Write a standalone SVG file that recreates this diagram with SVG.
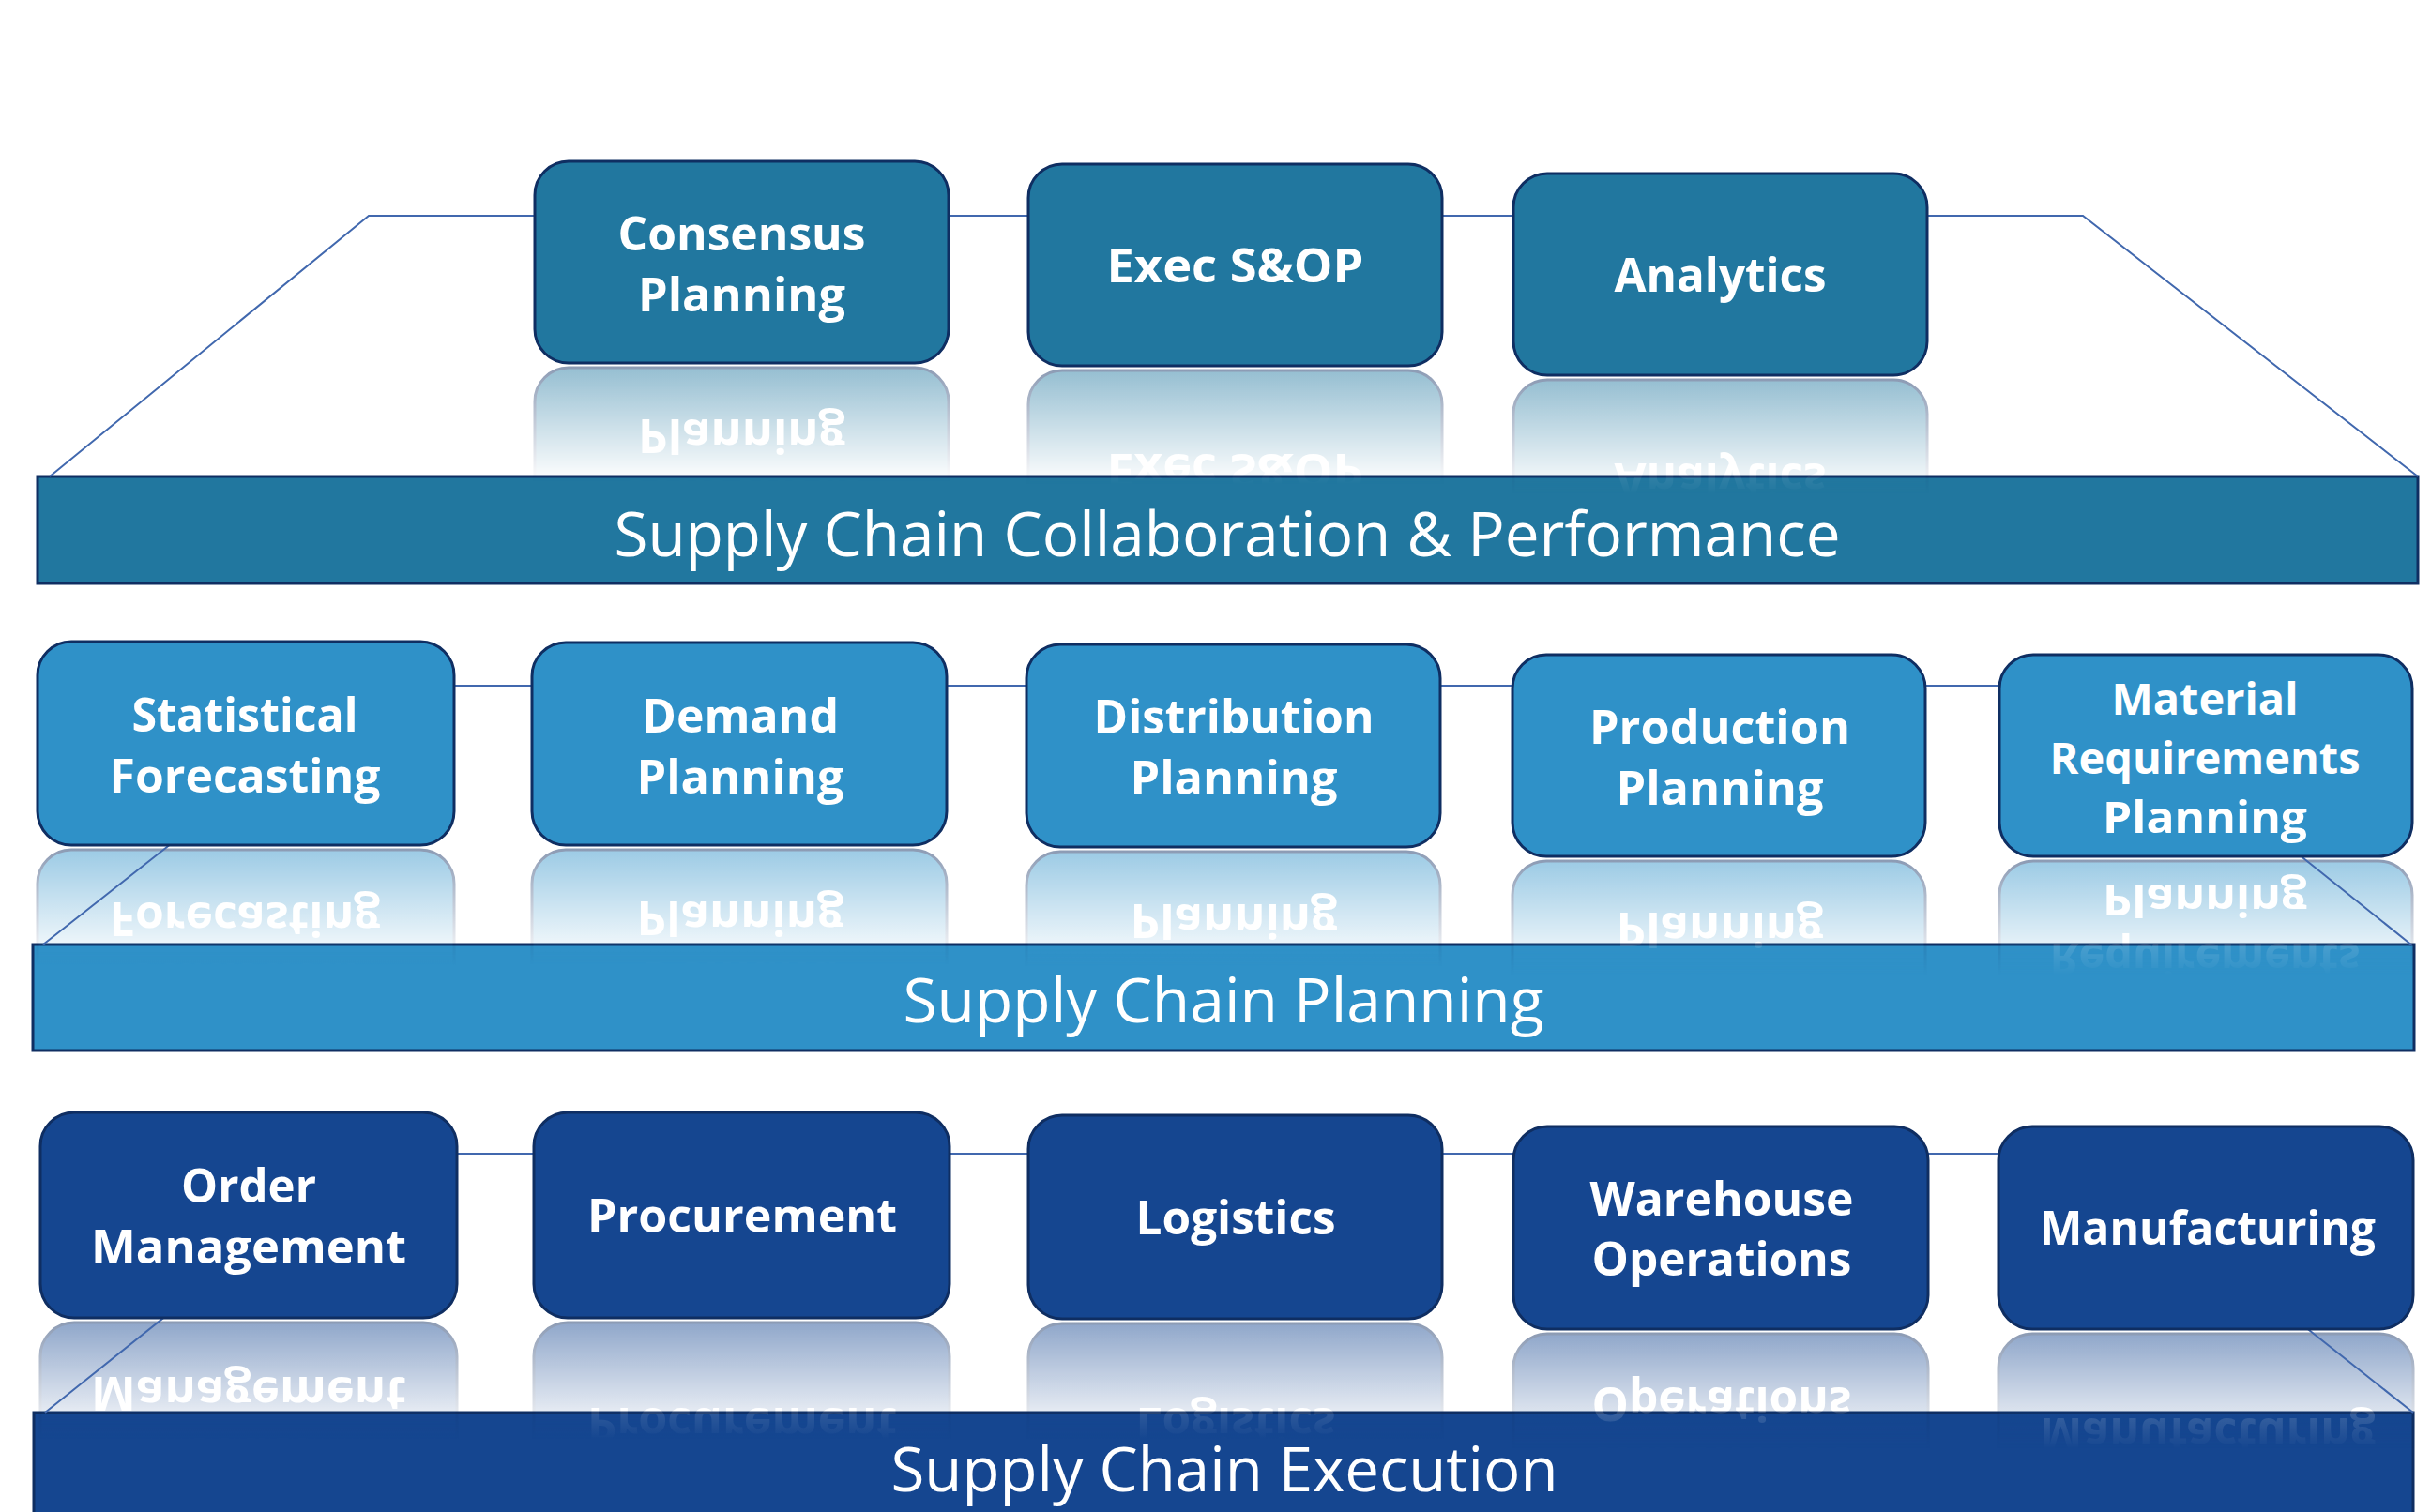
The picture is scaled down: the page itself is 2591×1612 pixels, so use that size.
<svg xmlns="http://www.w3.org/2000/svg" xmlns:xlink="http://www.w3.org/1999/xlink" width="2591" height="1612" viewBox="0 0 2591 1612">
<style>
.box{stroke:#0F2E62;stroke-width:3}
.r1{fill:#21779F}
.r2{fill:#2F91C8}
.r3{fill:#154690}
.bar{stroke:#0F2E62;stroke-width:3}
.lbl{font-family:"Open Sans","Noto Sans","Liberation Sans",sans-serif;font-weight:700;font-size:51px;fill:#fff;text-anchor:middle}
.lbl3{font-size:47px}
.btxt{font-family:"Open Sans","Noto Sans","Liberation Sans",sans-serif;font-weight:400;font-size:66px;fill:#fff;text-anchor:middle}
.con{fill:none;stroke:#4168AE;stroke-width:2}
</style>
<defs>
<linearGradient id="fadeG" x1="0" y1="1" x2="0" y2="0">
<stop offset="0" stop-color="#fff" stop-opacity="0.5"/>
<stop offset="0.58" stop-color="#fff" stop-opacity="0"/>
</linearGradient>
<mask id="fade" maskUnits="objectBoundingBox" maskContentUnits="objectBoundingBox" x="-0.1" y="-0.1" width="1.2" height="1.2">
<rect x="-0.1" y="0" width="1.2" height="1.03" fill="url(#fadeG)"/>
</mask>
</defs>
<rect width="2591" height="1612" fill="#fff"/>

<g id="bars">
<g id="bar-collab"><rect class="bar r1" x="40" y="508" width="2537" height="114"/><text class="btxt" x="1308" y="593" textLength="1307" lengthAdjust="spacingAndGlyphs">Supply Chain Collaboration &amp; Performance</text></g>
<g id="bar-planning"><rect class="bar r2" x="35" y="1007" width="2538" height="113"/><text class="btxt" x="1304" y="1090" textLength="683" lengthAdjust="spacingAndGlyphs">Supply Chain Planning</text></g>
<g id="bar-execution"><rect class="bar r3" x="36" y="1506" width="2536" height="140"/><text class="btxt" x="1305" y="1590" textLength="711" lengthAdjust="spacingAndGlyphs">Supply Chain Execution</text></g>
</g>

<g id="reflections">
<use xlink:href="#n-consensus" href="#n-consensus" transform="translate(0,779) scale(1,-1)" mask="url(#fade)"/>
<use xlink:href="#n-execsop" href="#n-execsop" transform="translate(0,785) scale(1,-1)" mask="url(#fade)"/>
<use xlink:href="#n-analytics" href="#n-analytics" transform="translate(0,805) scale(1,-1)" mask="url(#fade)"/>
<use xlink:href="#n-statistical" href="#n-statistical" transform="translate(0,1807) scale(1,-1)" mask="url(#fade)"/>
<use xlink:href="#n-demand" href="#n-demand" transform="translate(0,1807) scale(1,-1)" mask="url(#fade)"/>
<use xlink:href="#n-distribution" href="#n-distribution" transform="translate(0,1811) scale(1,-1)" mask="url(#fade)"/>
<use xlink:href="#n-production" href="#n-production" transform="translate(0,1831) scale(1,-1)" mask="url(#fade)"/>
<use xlink:href="#n-material" href="#n-material" transform="translate(0,1831) scale(1,-1)" mask="url(#fade)"/>
<use xlink:href="#n-order" href="#n-order" transform="translate(0,2815) scale(1,-1)" mask="url(#fade)"/>
<use xlink:href="#n-procurement" href="#n-procurement" transform="translate(0,2815) scale(1,-1)" mask="url(#fade)"/>
<use xlink:href="#n-logistics" href="#n-logistics" transform="translate(0,2817) scale(1,-1)" mask="url(#fade)"/>
<use xlink:href="#n-warehouse" href="#n-warehouse" transform="translate(0,2839) scale(1,-1)" mask="url(#fade)"/>
<use xlink:href="#n-manufacturing" href="#n-manufacturing" transform="translate(0,2839) scale(1,-1)" mask="url(#fade)"/>
</g>

<g id="connectors">
<path class="con" d="M53,508 L393,230 L2220,230 L2577,508"/>
<path class="con" d="M46,1007 L396,731 L2226,731 L2571,1008"/>
<path class="con" d="M48,1506 L393,1230 L2224,1230 L2572,1506"/>
</g>

<g id="nodes">
<g id="n-consensus"><rect class="box r1" x="570" y="172" width="441" height="215" rx="36"/><text class="lbl" x="790.5" y="267" textLength="264" lengthAdjust="spacingAndGlyphs">Consensus</text><text class="lbl" x="790.5" y="332" textLength="221" lengthAdjust="spacingAndGlyphs">Planning</text></g>
<g id="n-execsop"><rect class="box r1" x="1096" y="175" width="441" height="215" rx="36"/><text class="lbl" x="1316.5" y="301" textLength="274" lengthAdjust="spacingAndGlyphs">Exec S&amp;OP</text></g>
<g id="n-analytics"><rect class="box r1" x="1613" y="185" width="441" height="215" rx="36"/><text class="lbl" x="1833.5" y="311" textLength="226" lengthAdjust="spacingAndGlyphs">Analytics</text></g>

<g id="n-statistical"><rect class="box r2" x="40" y="684" width="444" height="217" rx="36"/><text class="lbl" x="261" y="780" textLength="241" lengthAdjust="spacingAndGlyphs">Statistical</text><text class="lbl" x="261" y="845" textLength="289" lengthAdjust="spacingAndGlyphs">Forecasting</text></g>
<g id="n-demand"><rect class="box r2" x="567" y="685" width="442" height="216" rx="36"/><text class="lbl" x="789" y="781" textLength="210" lengthAdjust="spacingAndGlyphs">Demand</text><text class="lbl" x="789" y="846" textLength="221" lengthAdjust="spacingAndGlyphs">Planning</text></g>
<g id="n-distribution"><rect class="box r2" x="1094" y="687" width="441" height="216" rx="36"/><text class="lbl" x="1315" y="782" textLength="299" lengthAdjust="spacingAndGlyphs">Distribution</text><text class="lbl" x="1315" y="847" textLength="221" lengthAdjust="spacingAndGlyphs">Planning</text></g>
<g id="n-production"><rect class="box r2" x="1612" y="698" width="440" height="215" rx="36"/><text class="lbl" x="1833" y="793" textLength="278" lengthAdjust="spacingAndGlyphs">Production</text><text class="lbl" x="1833" y="858" textLength="221" lengthAdjust="spacingAndGlyphs">Planning</text></g>
<g id="n-material"><rect class="box r2" x="2131" y="698" width="440" height="215" rx="36"/><text class="lbl lbl3" x="2350" y="762" textLength="199" lengthAdjust="spacingAndGlyphs">Material</text><text class="lbl lbl3" x="2350" y="825" textLength="331" lengthAdjust="spacingAndGlyphs">Requirements</text><text class="lbl lbl3" x="2350" y="888" textLength="218" lengthAdjust="spacingAndGlyphs">Planning</text></g>

<g id="n-order"><rect class="box r3" x="43" y="1186" width="444" height="219" rx="36"/><text class="lbl" x="265" y="1282" textLength="144" lengthAdjust="spacingAndGlyphs">Order</text><text class="lbl" x="265" y="1347" textLength="336" lengthAdjust="spacingAndGlyphs">Management</text></g>
<g id="n-procurement"><rect class="box r3" x="569" y="1186" width="443" height="219" rx="36"/><text class="lbl" x="791" y="1314" textLength="330" lengthAdjust="spacingAndGlyphs">Procurement</text></g>
<g id="n-logistics"><rect class="box r3" x="1096" y="1189" width="441" height="217" rx="36"/><text class="lbl" x="1317" y="1316" textLength="213" lengthAdjust="spacingAndGlyphs">Logistics</text></g>
<g id="n-warehouse"><rect class="box r3" x="1613" y="1201" width="442" height="216" rx="36"/><text class="lbl" x="1835" y="1296" textLength="281" lengthAdjust="spacingAndGlyphs">Warehouse</text><text class="lbl" x="1835" y="1360" textLength="277" lengthAdjust="spacingAndGlyphs">Operations</text></g>
<g id="n-manufacturing"><rect class="box r3" x="2130" y="1201" width="442" height="216" rx="36"/><text class="lbl" x="2353" y="1327" textLength="358" lengthAdjust="spacingAndGlyphs">Manufacturing</text></g>
</g>
</svg>
